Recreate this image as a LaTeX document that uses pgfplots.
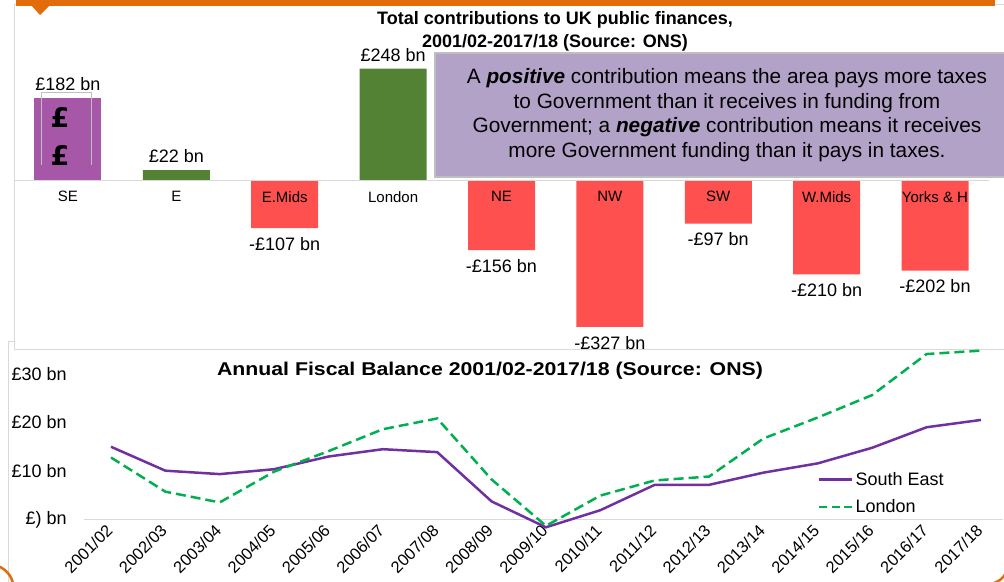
\documentclass[border=0pt]{standalone}
\usepackage{fontspec}
\setmainfont{Liberation Sans}
\newfontfamily\djfont{DejaVu Sans}
\usepackage{pgfplots}
\pgfplotsset{compat=1.18}
\pgfplotsset{londonleg/.style={legend image code/.code={\draw[##1, dash pattern=on 8pt off 4.5pt] (0pt,0pt) -- (33pt,0pt);}}}
\definecolor{topor}{HTML}{E36C0A}
\definecolor{sepurple}{HTML}{A757A8}
\definecolor{posgreen}{HTML}{548235}
\definecolor{negred}{HTML}{FF5050}
\definecolor{lav}{HTML}{B3A2C7}
\definecolor{boxgray}{HTML}{BFBFBF}
\definecolor{framegray}{HTML}{D9D9D9}
\definecolor{linepurple}{HTML}{7030A0}
\definecolor{linegreen}{HTML}{00B050}
\begin{document}
\begin{tikzpicture}
\path[use as bounding box] (0pt,0pt) rectangle (1004pt,-581pt);
\begin{scope}[x=1pt,y=-1pt]
% bottom panel frame
\draw[framegray, line width=1pt] (8,590) -- (8,341) -- (1010,341);
% top panel
\filldraw[fill=white, draw=framegray, line width=1pt] (14,4) rectangle (1010,349);
% orange header
\fill[topor] (16,0) rectangle (995,6);
\fill[topor] (31,5) -- (50,5) -- (40,15) -- cycle;
\draw[topor, line width=2.5pt] (-2,566) to[bend left=25] (13,583);
\draw[topor, line width=2.5pt] (994,583) to[bend right=20] (1006,573);
\end{scope}

% ---------------- top bar chart ----------------
\begin{axis}[
  at={(13.8pt,-328.2pt)}, anchor=south west, scale only axis,
  width=975.4pt, height=264.9pt,
  xmin=-0.5, xmax=8.5, ymin=-330, ymax=260,
  axis on top,
  axis x line=middle, axis y line=none,
  x axis line style={draw=framegray, line width=1pt, -},
  hide obscured x ticks=false,
  xtick={0,...,8},
  xticklabels={SE,E,E.Mids,London,NE,NW,SW,W.Mids,Yorks \& H},
  major tick length=0pt,
  xticklabel style={font=\fontsize{15}{18}\selectfont, anchor=north, inner sep=0pt, yshift=-11pt},
  ybar, bar width=67pt, bar shift=0pt,
  nodes near coords, point meta=explicit symbolic,
  nodes near coords style={font=\fontsize{18}{21}\selectfont, inner sep=0pt},
  clip=false,
]
\addplot[fill=sepurple, draw=none, every node near coord/.append style={anchor=south, yshift=7pt}]
  coordinates {(0,182) [£182 bn]};
\addplot[fill=posgreen, draw=none, every node near coord/.append style={anchor=south, yshift=7pt}]
  coordinates {(1,22) [£22 bn] (3,248) [£248 bn]};
\addplot[fill=negred, draw=none, every node near coord/.append style={anchor=north, yshift=-9pt}]
  coordinates {(2,-107) [-£107 bn] (4,-156) [-£156 bn] (5,-327) [-£327 bn]
               (6,-97) [-£97 bn] (7,-210) [-£210 bn] (8,-202) [-£202 bn]};
\end{axis}

\begin{scope}[x=1pt,y=-1pt]
% SE decoration
\draw[boxgray, line width=0.8pt] (41,165) -- (41,92.7) -- (91,92.7) -- (91,165);
\node[font=\djfont\bfseries\fontsize{27}{30}\selectfont] at (60,117) {£};
\node[font=\djfont\bfseries\fontsize{27}{30}\selectfont] at (60,155) {£};
% title
\node[font=\bfseries\fontsize{18}{23}\selectfont, align=center] at (555,31.5)
  {Total contributions to UK public finances,\\2001/02-2017/18 (Source: ONS)};
% explanation box
\filldraw[fill=lav, draw=boxgray, line width=2pt] (435,53) rectangle (1010,177);
\node[font=\fontsize{20.8}{24.7}\selectfont, align=center] at (727,115)
  {A \textbf{\textit{positive}} contribution means the area pays more taxes\\
   to Government than it receives in funding from\\
   Government; a \textbf{\textit{negative}} contribution means it receives\\
   more Government funding than it pays in taxes.};
\end{scope}

% ---------------- bottom line chart ----------------
\begin{axis}[
  at={(83.8pt,-534.6pt)}, anchor=south west, scale only axis,
  width=918.9pt, height=195.2pt,
  xmin=-0.5, xmax=16.4, ymin=-3, ymax=37,
  axis line style={draw=none},
  major tick length=0pt,
  xtick={0,...,16},
  xticklabels={2001/02,2002/03,2003/04,2004/05,2005/06,2006/07,2007/08,2008/09,2009/10,2010/11,2011/12,2012/13,2013/14,2014/15,2015/16,2016/17,2017/18},
  xticklabel style={font=\fontsize{16.5}{19}\selectfont, xshift=3pt, yshift=2.5pt, rotate=45, anchor=south east, inner sep=0pt},
  ytick={10,20,30},
  yticklabels={£10 bn,£20 bn,£30 bn},
  extra y ticks={0},
  extra y tick labels={£) bn},
  extra y tick style={ymajorgrids=true, major grid style={draw=framegray, line width=1pt}},
  yticklabel style={font=\fontsize{18}{21}\selectfont, anchor=east, inner sep=0pt, xshift=-17pt},
  clip=false,
  legend style={at={(0.799,0.33)}, anchor=north west, draw=none, fill=none,
    font=\fontsize{18}{21}\selectfont, row sep=9pt, inner sep=0pt},
  legend cell align=left,
  legend image code/.code={\draw[#1] (0pt,0pt) -- (33pt,0pt);},
]
\addplot[linepurple, line width=2.5pt] coordinates {
(0,15.0) (1,10.1) (2,9.4) (3,10.4) (4,13.0) (5,14.5) (6,13.9) (7,3.8) (8,-1.5)
(9,2.0) (10,7.2) (11,7.2) (12,9.7) (13,11.6) (14,14.8) (15,19.0) (16,20.5)};
\addlegendentry{South East}
\addplot[linegreen, line width=2.5pt, dash pattern=on 10pt off 5pt, londonleg] coordinates {
(0,12.8) (1,5.8) (2,3.6) (3,9.9) (4,14.1) (5,18.6) (6,20.8) (7,8.3) (8,-1.2)
(9,5.0) (10,8.1) (11,8.9) (12,16.7) (13,21.0) (14,25.6) (15,34.0) (16,34.7)};
\addlegendentry{London}
\end{axis}

\begin{scope}[x=1pt,y=-1pt]
\node[font=\bfseries\fontsize{18.5}{22}\selectfont] at (490,371)
  {\scalebox{1.15}[1]{Annual Fiscal Balance 2001/02-2017/18 (Source: ONS)}};
\end{scope}
\end{tikzpicture}
\end{document}
